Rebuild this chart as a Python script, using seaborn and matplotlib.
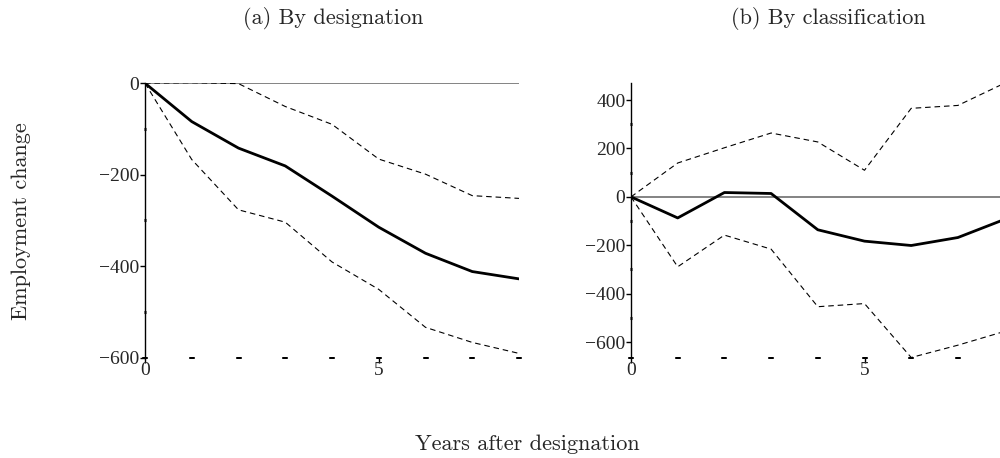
import numpy as np
import pandas as pd
import matplotlib
matplotlib.use("Agg")
import matplotlib.pyplot as plt
from matplotlib.ticker import FixedLocator
import seaborn as sns

years = [0, 1, 2, 3, 4, 5, 6, 7, 8]

# (a) By designation
a_mean = [0, -84, -142, -181, -247, -315, -372, -412, -428]
a_upper = [0, 1, -1, -51, -90, -166, -199, -246, -252]
a_lower = [0, -167, -277, -304, -391, -451, -534, -567, -591]

# (b) By classification
b_mean = [0, -87, 18, 14, -136, -183, -201, -168, -93]
b_upper = [0, 140, 203, 264, 227, 110, 366, 378, 470]
b_lower = [0, -289, -158, -216, -454, -441, -664, -613, -556]

titles = ["(a) By designation", "(b) By classification"]
ylabel = "Employment change"
xlabel = "Years after designation"

sns.set_theme(style="white")
plt.rcParams["axes.unicode_minus"] = True

fig = plt.figure(figsize=(10, 4.58), dpi=100)
ax_a = fig.add_axes([0.145, 0.2194, 0.374, 0.599])
ax_b = fig.add_axes([0.631, 0.2194, 0.3736, 0.599])

tick_font = {"family": "Liberation Serif", "size": 14}

def draw(ax, mean, upper, lower, ylim, yticks, yminor):
    ax.axhline(0, color="#7a7a7a", lw=1.3, zorder=1)
    sns.lineplot(x=years, y=upper, ax=ax, color="black", lw=0.8, linestyle=(0, (5, 3.5)))
    sns.lineplot(x=years, y=lower, ax=ax, color="black", lw=0.8, linestyle=(0, (5, 3.5)))
    sns.lineplot(x=years, y=mean, ax=ax, color="black", lw=2.0)
    ax.set_xlim(0, 8)
    ax.set_ylim(*ylim)
    for s in ["top", "right", "bottom"]:
        ax.spines[s].set_visible(False)
    ax.spines["left"].set_color("black")
    ax.spines["left"].set_linewidth(1.0)
    ax.xaxis.remove_overlapping_locs = False
    ax.yaxis.remove_overlapping_locs = False
    ax.xaxis.set_major_locator(FixedLocator([0, 5]))
    ax.xaxis.set_minor_locator(FixedLocator(years))
    ax.yaxis.set_major_locator(FixedLocator(yticks))
    ax.yaxis.set_minor_locator(FixedLocator(yminor))
    ax.tick_params(axis="x", which="major", bottom=True, direction="out", length=3.5, width=1, color="black", pad=0)
    ax.tick_params(axis="x", which="minor", bottom=True, direction="inout", length=1.8, width=4, color="black")
    ax.tick_params(axis="y", which="major", left=True, direction="out", length=3.5, width=1, color="black", pad=0.5)
    ax.tick_params(axis="y", which="minor", left=True, direction="inout", length=2.0, width=2.2, color="black")
    ax.set_xticklabels(["0", "5"], fontdict=tick_font)
    ax.set_yticklabels([f"{int(t)}".replace("-", "\u2212") for t in yticks], fontdict=tick_font)
    ax.set_xlabel("")
    ax.set_ylabel("")
    ax.grid(False)
    ax.patch.set_alpha(0)

draw(ax_a, a_mean, a_upper, a_lower, (-600, 0), [-600, -400, -200, 0], [-500, -300, -100])
draw(ax_b, b_mean, b_upper, b_lower, (-664, 470), [-600, -400, -200, 0, 200, 400], [-500, -300, -100, 100, 300])

title_font = dict(family="cmr10", size=16)
fig.text(0.333, 0.96, titles[0], ha="center", va="center", **title_font)
fig.text(0.828, 0.96, titles[1], ha="center", va="center", **title_font)
fig.text(0.021, 0.517, ylabel, ha="center", va="center", rotation=90, **title_font)
fig.text(0.527, 0.03, xlabel, ha="center", va="center", **title_font)

fig.savefig("out.png", dpi=100)
